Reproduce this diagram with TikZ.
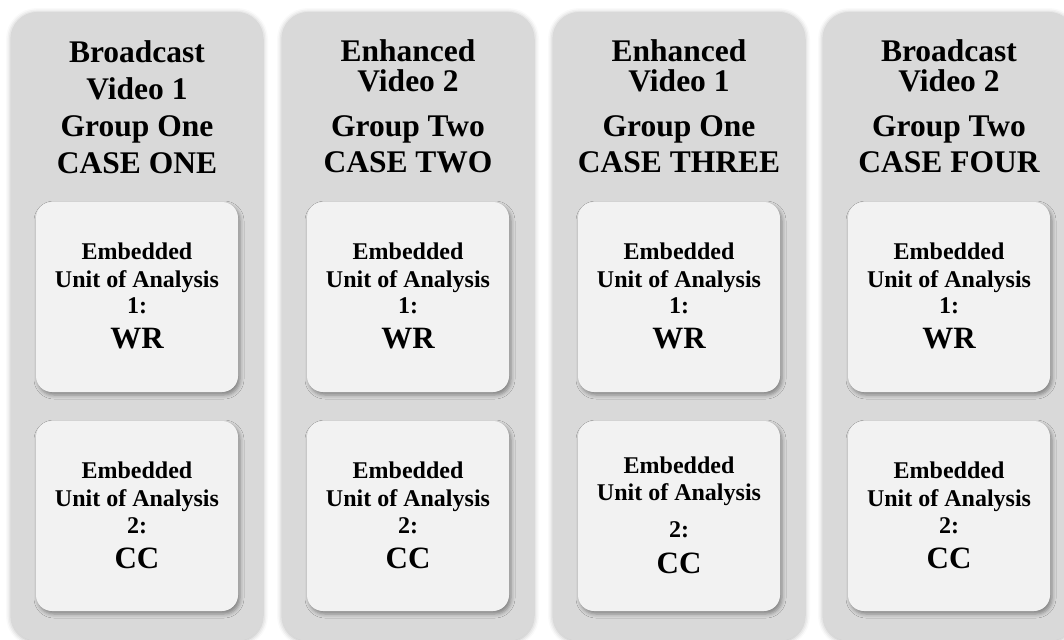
\documentclass[tikz,border=0pt]{standalone}
\usepackage{fontspec}
\setmainfont{Liberation Serif}
\usetikzlibrary{shadows.blur}
\definecolor{colfill}{HTML}{D9D9D9}
\definecolor{boxfill}{HTML}{F2F2F2}
\begin{document}
\begin{tikzpicture}[x=1pt,y=-1pt,
  column/.style={fill=colfill, draw=none, rounded corners=26pt, inner sep=0pt,
    minimum width=252pt, minimum height=629pt,
    blur shadow={shadow xshift=0pt, shadow yshift=-1pt, shadow blur radius=5pt, shadow opacity=30}},
  unitbox/.style={fill=boxfill, draw=none, rounded corners=16pt, inner sep=0pt,
    minimum width=202pt, minimum height=190pt,
    blur shadow={shadow xshift=2pt, shadow yshift=-3pt, shadow blur radius=4pt, shadow opacity=40}},
  title/.style={anchor=base, inner sep=0pt, font=\fontsize{31.5}{37}\selectfont\bfseries},
  unitlabel/.style={anchor=base, inner sep=0pt, font=\fontsize{24}{28}\selectfont\bfseries},
  unitcode/.style={anchor=base, inner sep=0pt, font=\fontsize{31}{37}\selectfont\bfseries}]
\useasboundingbox (0,0) rectangle (1064,639);

% columns and their two embedded-unit boxes
\foreach \i/\cx in {1/137, 2/408, 3/679, 4/949} {
  \node[column] (col\i) at (\cx,326.5) {};
  \node[unitbox] (wr\i) at (\cx,297) {};
  \node[unitbox] (cc\i) at (\cx,516) {};
}

% column headings
\node[title] (h1a) at (137,63)  {Broadcast};
\node[title] (h1b) at (137,100) {Video 1};
\node[title] (h1c) at (137,137) {Group One};
\node[title] (h1d) at (137,173) {CASE ONE};

\node[title] (h2a) at (408,62)  {Enhanced};
\node[title] (h2b) at (408,92)  {Video 2};
\node[title] (h2c) at (408,137) {Group Two};
\node[title] (h2d) at (408,172) {CASE TWO};

\node[title] (h3a) at (679,62)  {Enhanced};
\node[title] (h3b) at (679,92)  {Video 1};
\node[title] (h3c) at (679,137) {Group One};
\node[title] (h3d) at (679,172) {CASE THREE};

\node[title] (h4a) at (949,62)  {Broadcast};
\node[title] (h4b) at (949,92)  {Video 2};
\node[title] (h4c) at (949,137) {Group Two};
\node[title] (h4d) at (949,172) {CASE FOUR};

% embedded unit 1 (WR) in every column
\foreach \i/\cx in {1/137, 2/408, 3/679, 4/949} {
  \node[unitlabel] (wr\i a) at (\cx,259) {Embedded};
  \node[unitlabel] (wr\i b) at (\cx,287) {Unit of Analysis};
  \node[unitlabel] (wr\i c) at (\cx,313) {1:};
  \node[unitcode]  (wr\i d) at (\cx,348) {WR};
}

% embedded unit 2 (CC)
\foreach \i/\cx in {1/137, 2/408, 4/949} {
  \node[unitlabel] (cc\i a) at (\cx,478) {Embedded};
  \node[unitlabel] (cc\i b) at (\cx,506) {Unit of Analysis};
  \node[unitlabel] (cc\i c) at (\cx,533) {2:};
  \node[unitcode]  (cc\i d) at (\cx,568) {CC};
}
\node[unitlabel] (cc3a) at (679,473) {Embedded};
\node[unitlabel] (cc3b) at (679,500) {Unit of Analysis};
\node[unitlabel] (cc3c) at (679,537) {2:};
\node[unitcode]  (cc3d) at (679,573) {CC};
\end{tikzpicture}
\end{document}
